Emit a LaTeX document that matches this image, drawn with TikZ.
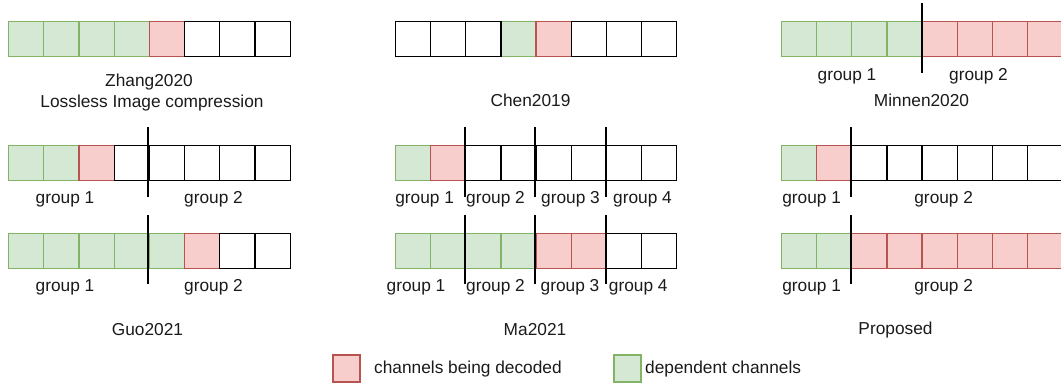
\documentclass[tikz,border=0pt]{standalone}
\usepackage{fontspec}
\setmainfont{Liberation Sans}
\definecolor{gfill}{HTML}{D5E8D4}
\definecolor{gdraw}{HTML}{82B366}
\definecolor{rfill}{HTML}{F8CECC}
\definecolor{rdraw}{HTML}{B85450}
\definecolor{txt}{HTML}{1A1A1A}
% #1 name prefix, #2 left x, #3 top y, #4 cell pitch, #5 colour list
\newcommand\drawcellrow[5]{%
  \foreach \pass in {g,r,w}{%
    \foreach \c [count=\i] in {#5}{%
      \ifx\c\pass
        \node[cell\c] (#1\i) at ({#2+(\i-1)*#4},#3) {};
      \fi
    }%
  }%
}
\begin{document}
\begin{tikzpicture}[x=1pt,y=-1pt,
  cellbase/.style={minimum width=35.1pt, minimum height=35pt, inner sep=0pt, line width=1.2pt, anchor=north west},
  cellw/.style={cellbase, draw=black, fill=white},
  cellg/.style={cellbase, draw=gdraw, fill=gfill},
  cellr/.style={cellbase, draw=rdraw, fill=rfill},
  divider/.style={line width=2pt, draw=black},
  lbl/.style={inner sep=0pt, font=\fontsize{17.3}{20}\selectfont, text=txt},
  legbox/.style={minimum width=27pt, minimum height=27pt, inner sep=0pt, line width=1.2pt}
]
\useasboundingbox (0,0) rectangle (1061,387);

% ---------- Zhang2020 ----------
\drawcellrow{zh}{8}{21}{35.2}{g,g,g,g,r,w,w,w}
\node[lbl] (zhA) at (149,82) {Zhang2020};
\node[lbl] (zhB) at (152,103) {Lossless Image compression};

% ---------- Chen2019 ----------
\drawcellrow{ch}{395}{21}{35.1}{w,w,w,g,r,w,w,w}
\node[lbl] (chA) at (530.5,100) {Chen2019};

% ---------- Minnen2020 ----------
\drawcellrow{mi}{781}{21}{35.1}{g,g,g,g,r,r,r,r}
\coordinate (miT) at (921.5,3);
\coordinate (miB) at (921.5,73);
\draw[divider] (miT) -- (miB);
\node[lbl] (miG1) at (847,76) {group 1};
\node[lbl] (miG2) at (978.5,76) {group 2};
\node[lbl] (miA) at (921.5,100) {Minnen2020};

% ---------- Guo2021 ----------
\drawcellrow{gua}{8}{145}{35.2}{g,g,r,w,w,w,w,w}
\drawcellrow{gub}{8}{233}{35.2}{g,g,g,g,g,r,w,w}
\coordinate (guaT) at (148.3,127); \coordinate (guaB) at (148.3,197);
\coordinate (gubT) at (148.3,215); \coordinate (gubB) at (148.3,284);
\draw[divider] (guaT) -- (guaB);
\draw[divider] (gubT) -- (gubB);
\node[lbl] (guaG1) at (65,199) {group 1};
\node[lbl] (guaG2) at (213.5,199) {group 2};
\node[lbl] (gubG1) at (65,287) {group 1};
\node[lbl] (gubG2) at (213.5,287) {group 2};
\node[lbl] (guA) at (147.5,330) {Guo2021};

% ---------- Ma2021 ----------
\drawcellrow{maa}{395}{145}{35.1}{g,r,w,w,w,w,w,w}
\drawcellrow{mab}{395}{233}{35.1}{g,g,g,g,r,r,w,w}
\foreach \xx [count=\k] in {465.2,535.4,605.6}{
  \coordinate (maaT\k) at (\xx,127); \coordinate (maaB\k) at (\xx,197);
  \coordinate (mabT\k) at (\xx,215); \coordinate (mabB\k) at (\xx,284);
  \draw[divider] (maaT\k) -- (maaB\k);
  \draw[divider] (mabT\k) -- (mabB\k);
}
\node[lbl] (maaG1) at (424.7,199) {group 1};
\node[lbl] (maaG2) at (495.5,199) {group 2};
\node[lbl] (maaG3) at (570.5,199) {group 3};
\node[lbl] (maaG4) at (642.5,199) {group 4};
\node[lbl] (mabG1) at (416,287) {group 1};
\node[lbl] (mabG2) at (495.5,287) {group 2};
\node[lbl] (mabG3) at (570,287) {group 3};
\node[lbl] (mabG4) at (638.3,287) {group 4};
\node[lbl] (maA) at (535,330) {Ma2021};

% ---------- Proposed ----------
\drawcellrow{pra}{781}{145}{35.1}{g,r,w,w,w,w,w,w}
\drawcellrow{prb}{781}{233}{35.1}{g,g,r,r,r,r,r,r}
\coordinate (praT) at (851.2,127); \coordinate (praB) at (851.2,197);
\coordinate (prbT) at (851.2,215); \coordinate (prbB) at (851.2,284);
\draw[divider] (praT) -- (praB);
\draw[divider] (prbT) -- (prbB);
\node[lbl] (praG1) at (811.7,199) {group 1};
\node[lbl] (praG2) at (943.7,199) {group 2};
\node[lbl] (prbG1) at (811.7,287) {group 1};
\node[lbl] (prbG2) at (943.7,287) {group 2};
\node[lbl] (prA) at (895.5,330) {Proposed};

% ---------- Legend ----------
\node[legbox, draw=rdraw, fill=rfill] (legR) at (346.5,368.5) {};
\node[lbl, anchor=west] (legRt) at (374,369) {channels being decoded};
\node[legbox, draw=gdraw, fill=gfill] (legG) at (627.5,368.5) {};
\node[lbl, anchor=west] (legGt) at (645,369) {dependent channels};
\end{tikzpicture}
\end{document}
